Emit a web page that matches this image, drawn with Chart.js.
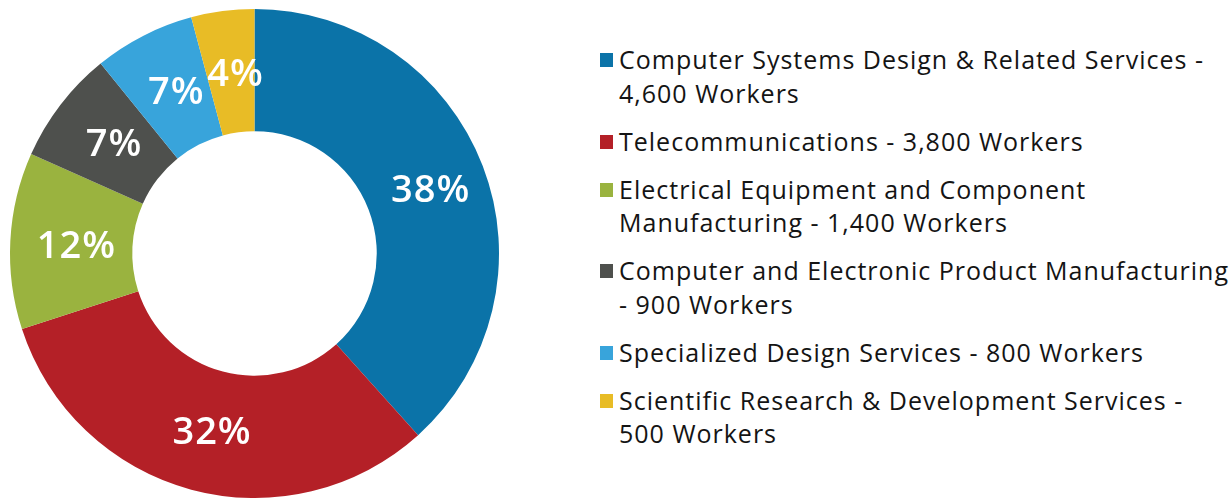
<!DOCTYPE html>
<html lang="en">
<head>
    <meta charset="UTF-8">
    <title>Workers by Industry</title>
    <script src="https://cdn.jsdelivr.net/npm/chart.js@4.4.1/dist/chart.umd.min.js"></script>
    <style>
        *{box-sizing:border-box}
        body{margin:0;background:#fff;width:1230px;height:498px;overflow:hidden;position:relative}
        #chart-box{position:absolute;left:0;top:0;width:510px;height:498px}
        #legend{position:absolute;left:600px;top:43px;margin:0;padding:0;list-style:none;font-family:'Open Sans',Lato,sans-serif;font-weight:400;font-size:25px;letter-spacing:1px;line-height:33.5px;color:#141414}
        #legend li{position:relative;padding-left:19px;margin-bottom:14.5px;white-space:nowrap}
        #legend li span.box{position:absolute;left:0;top:10px;width:13px;height:14px}
    </style>
</head>
<body>
    <div id="chart-box"><canvas id="donut"></canvas></div>
    <ul id="legend"></ul>

    <script>
        // Data
        const categories = [
            ['Computer Systems Design & Related Services -', '4,600 Workers'],
            ['Telecommunications - 3,800 Workers'],
            ['Electrical Equipment and Component', 'Manufacturing - 1,400 Workers'],
            ['Computer and Electronic Product Manufacturing', '- 900 Workers'],
            ['Specialized Design Services - 800 Workers'],
            ['Scientific Research & Development Services -', '500 Workers']
        ];
        const workers = [4600, 3800, 1400, 900, 800, 500];
        const shareLabels = ['38%', '32%', '12%', '7%', '7%', '4%'];
        const colors = ['#0b73a8', '#b42027', '#9ab33f', '#4e504d', '#38a4db', '#e8bc26'];

        // Draws the percentage in the middle of each slice
        const sliceLabels = {
            id: 'sliceLabels',
            afterDatasetsDraw(chart) {
                const ctx = chart.ctx;
                const meta = chart.getDatasetMeta(0);
                ctx.save();
                ctx.fillStyle = '#fff';
                ctx.font = '600 38px "Open Sans", Lato, sans-serif';
                ctx.letterSpacing = '1px';
                ctx.textAlign = 'center';
                ctx.textBaseline = 'middle';
                meta.data.forEach((arc, i) => {
                    const p = arc.tooltipPosition();
                    ctx.fillText(shareLabels[i], p.x + 5, p.y + 3);
                });
                ctx.restore();
            }
        };

        // HTML legend so the labels can wrap like the original
        const htmlLegend = {
            id: 'htmlLegend',
            afterUpdate(chart) {
                const list = document.getElementById('legend');
                list.innerHTML = '';
                const items = chart.options.plugins.legend.labels.generateLabels(chart);
                items.forEach((item, i) => {
                    const li = document.createElement('li');
                    const box = document.createElement('span');
                    box.className = 'box';
                    box.style.background = item.fillStyle;
                    li.appendChild(box);
                    categories[i].forEach((line, j) => {
                        if (j > 0) li.appendChild(document.createElement('br'));
                        li.appendChild(document.createTextNode(line));
                    });
                    list.appendChild(li);
                });
            }
        };

        new Chart(document.getElementById('donut'), {
            type: 'doughnut',
            data: {
                labels: categories.map(c => c.join(' ')),
                datasets: [{
                    data: workers,
                    backgroundColor: colors,
                    borderWidth: 0
                }]
            },
            options: {
                responsive: true,
                maintainAspectRatio: false,
                animation: false,
                cutout: '50%',
                layout: { padding: { left: 10, right: 11, top: 9, bottom: 0 } },
                plugins: {
                    legend: { display: false },
                    tooltip: { enabled: false }
                }
            },
            plugins: [sliceLabels, htmlLegend]
        });
    </script>
</body>
</html>
